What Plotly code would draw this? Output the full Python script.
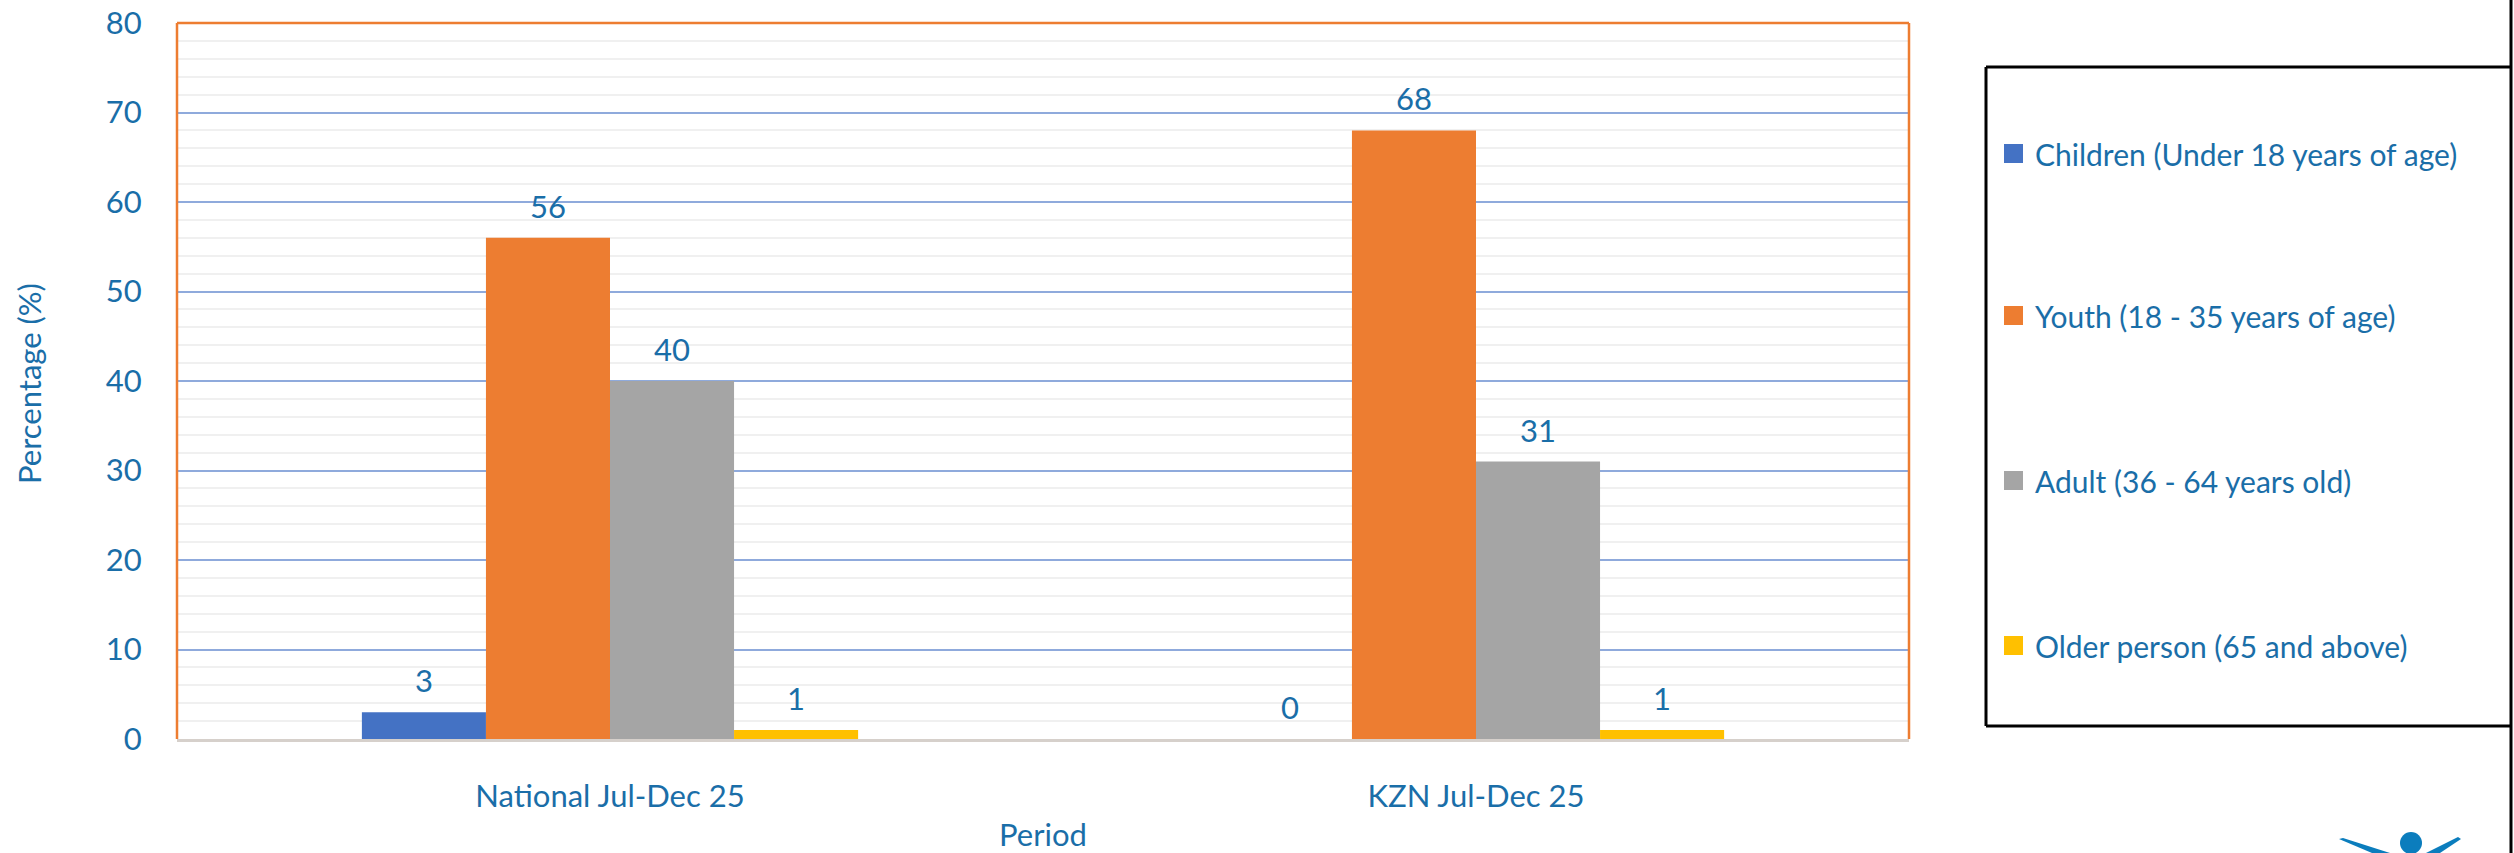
import plotly.graph_objects as go

# data
periods = ["National Jul-Dec 25", "KZN Jul-Dec 25"]
series_names = [
    "Children (Under 18 years of age)",
    "Youth (18 - 35 years of age)",
    "Adult (36 - 64 years old)",
    "Older person (65 and above)",
]
children = [3, 0]
youth = [56, 68]
adult = [40, 31]
older = [1, 1]
colors = ["#4472C4", "#ED7D31", "#A5A5A5", "#FFC000"]

TEXT = "#1a6ea8"
FONT = "Lato"
W, H = 2514, 853
ML, MR, MT, MB = 177, 605, 23, 114
PW, PH = W - ML - MR, H - MT - MB
BARGAP = 0.427


def px(x):
    return (x - ML) / PW


def py(y):
    return (H - MB - y) / PH


fig = go.Figure()
all_values = [children, youth, adult, older]
xs = list(range(len(periods)))
for name, vals, col in zip(series_names, all_values, colors):
    fig.add_trace(go.Bar(x=xs, y=vals, name=name, marker_color=col,
                         marker_line_width=0, showlegend=False))

# data labels above each bar
bar_w = (1 - BARGAP) / len(all_values)
annotations = []
for k, vals in enumerate(all_values):
    for i, v in enumerate(vals):
        annotations.append(dict(
            x=i + (k - (len(all_values) - 1) / 2) * bar_w, y=v, xref="x", yref="y",
            text=str(v), showarrow=False, yshift=32, xanchor="center", yanchor="middle",
            font=dict(family=FONT, size=31, color=TEXT)))

# axis titles
annotations.append(dict(x=px(29), y=py(384), xref="paper", yref="paper",
                        text="Percentage (%)", textangle=-90, showarrow=False,
                        xanchor="center", yanchor="middle",
                        font=dict(family=FONT, size=31, color=TEXT)))
annotations.append(dict(x=px(1043), y=py(834), xref="paper", yref="paper",
                        text="Period", showarrow=False,
                        xanchor="center", yanchor="middle",
                        font=dict(family=FONT, size=31, color=TEXT)))

# manual legend
shapes = []
legend_y = [154, 316, 481, 646]
for name, col, ly in zip(series_names, colors, legend_y):
    shapes.append(dict(type="rect", xref="paper", yref="paper",
                       x0=px(2004), x1=px(2023), y0=py(ly + 9), y1=py(ly - 10),
                       fillcolor=col, line_width=0))
    annotations.append(dict(x=px(2033), y=py(ly), xref="paper", yref="paper",
                            text=name, showarrow=False, xanchor="left", yanchor="middle",
                            font=dict(family=FONT, size=30, color=TEXT)))

blk = dict(color="black", width=3)
shapes += [
    dict(type="line", xref="paper", yref="paper", x0=px(1986), x1=px(2511), y0=py(67), y1=py(67), line=blk),
    dict(type="line", xref="paper", yref="paper", x0=px(1986), x1=px(2511), y0=py(726), y1=py(726), line=blk),
    dict(type="line", xref="paper", yref="paper", x0=px(1986), x1=px(1986), y0=py(67), y1=py(726), line=blk),
    dict(type="line", xref="paper", yref="paper", x0=px(2511), x1=px(2511), y0=py(0), y1=py(853), line=blk),
]

# orange plot frame (left, top, right)
org = dict(color="#ED7D31", width=2.5)
shapes += [
    dict(type="line", xref="paper", yref="paper", x0=0, x1=0, y0=0, y1=1, line=org),
    dict(type="line", xref="paper", yref="paper", x0=0, x1=1, y0=1, y1=1, line=org),
    dict(type="line", xref="paper", yref="paper", x0=1, x1=1, y0=0, y1=1, line=org),
]

# partial logo at bottom right
logo = "#0b7dbd"
shapes.append(dict(type="circle", xref="paper", yref="paper",
                   x0=px(2400), x1=px(2422), y0=py(854), y1=py(832),
                   fillcolor=logo, line_width=0))


def path(pts):
    return "M " + " L ".join(f"{px(a):.5f},{py(b):.5f}" for a, b in pts) + " Z"


shapes.append(dict(type="path", xref="paper", yref="paper",
                   path=path([(2339, 839), (2343, 838), (2390, 853), (2372, 853)]),
                   fillcolor=logo, line_width=0))
shapes.append(dict(type="path", xref="paper", yref="paper",
                   path=path([(2458, 837), (2461, 839), (2440, 853), (2426, 853)]),
                   fillcolor=logo, line_width=0))

fig.update_layout(
    width=W, height=H,
    margin=dict(l=ML, r=MR, t=MT, b=MB, autoexpand=False),
    plot_bgcolor="white", paper_bgcolor="white",
    barmode="group", bargap=BARGAP, bargroupgap=0,
    font=dict(family=FONT, size=31, color=TEXT),
    annotations=annotations, shapes=shapes,
    showlegend=False,
)
fig.update_xaxes(
    range=[-0.5, len(periods) - 0.5], tickvals=xs, ticktext=periods,
    showgrid=False, zeroline=False, automargin=False,
    showline=True, linecolor="#D6D0CB", linewidth=2.5,
    ticks="outside", ticklen=28, tickcolor="rgba(0,0,0,0)",
    tickfont=dict(family=FONT, size=31, color=TEXT),
)
fig.update_yaxes(
    range=[0, 80], dtick=10, showgrid=True, gridcolor="#8FAADC", gridwidth=1.5,
    zeroline=False, showline=False, automargin=False,
    minor=dict(dtick=2, showgrid=True, gridcolor="#F0F0F0", gridwidth=1.5),
    ticks="outside", ticklen=28, tickcolor="rgba(0,0,0,0)",
    tickfont=dict(family=FONT, size=31, color=TEXT),
)

fig.write_html(
    "out.html",
    config={"displayModeBar": False},
    post_script="document.body.style.margin='0';document.body.style.overflow='hidden';",
)
